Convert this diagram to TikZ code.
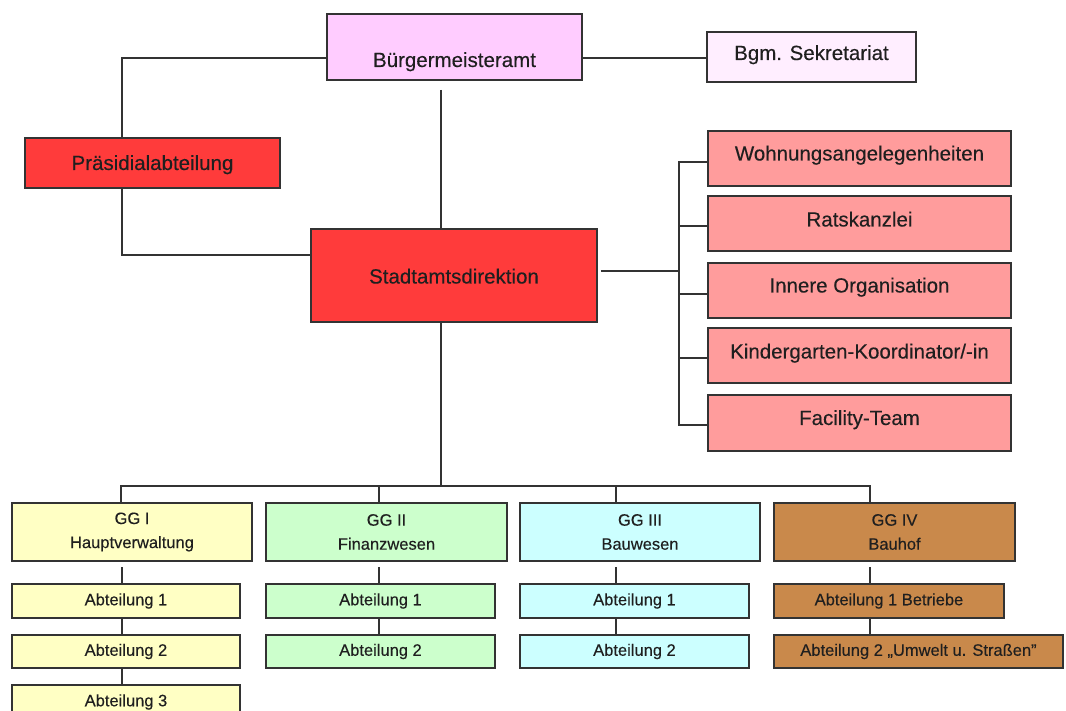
\documentclass[tikz,border=0pt]{standalone}
\usepackage{fontspec}
\setmainfont{Liberation Sans}[FakeBold=0.25]
\definecolor{cBma}{HTML}{FFCCFF}
\definecolor{cSek}{HTML}{FFEEFF}
\definecolor{cRed}{HTML}{FF3B3B}
\definecolor{cRose}{HTML}{FF9C9C}
\definecolor{cYel}{HTML}{FFFFC4}
\definecolor{cGrn}{HTML}{CCFFCC}
\definecolor{cCya}{HTML}{CCFFFF}
\definecolor{cBrn}{HTML}{C9894B}
\definecolor{cLine}{HTML}{333333}
\tikzset{
  box/.style={draw=cLine, line width=1.6pt, inner sep=0pt, align=center, text=black!88},
  bigtxt/.style={font=\fontsize{20.5}{24}\selectfont, text height=14pt, text depth=4pt},
  smalltxt/.style={font=\fontsize{16.5}{24}\selectfont},
  oneline/.style={text height=12pt, text depth=3.5pt},
  conn/.style={draw=cLine, line width=1.6pt}
}
\begin{document}
\begin{tikzpicture}[x=1pt,y=-1pt]
\useasboundingbox[fill=white] (0,0) rectangle (1066,711);
% top level
\node[box,bigtxt,fill=cBma,minimum width=255pt,minimum height=66pt] (bma) at (454.5,47) {\raisebox{-15pt}{Bürgermeisteramt}};
\node[box,bigtxt,fill=cSek,minimum width=209pt,minimum height=50pt] (sek) at (811.5,57) {\raisebox{2pt}{Bgm. Sekretariat}};
\node[box,bigtxt,fill=cRed,minimum width=255pt,minimum height=50pt] (praes) at (152.5,163) {\raisebox{-2pt}{Präsidialabteilung}};
\node[box,bigtxt,fill=cRed,minimum width=286pt,minimum height=93pt] (sad) at (454,275.5) {\raisebox{-3pt}{Stadtamtsdirektion}};
% right staff units
\node[box,bigtxt,fill=cRose,minimum width=303pt,minimum height=55pt] (woh) at (859.5,158.5) {\raisebox{3pt}{Wohnungsangelegenheiten}};
\node[box,bigtxt,fill=cRose,minimum width=303pt,minimum height=55pt] (rat) at (859.5,223.5) {\raisebox{2pt}{Ratskanzlei}};
\node[box,bigtxt,fill=cRose,minimum width=303pt,minimum height=55pt] (inn) at (859.5,290.5) {\raisebox{3pt}{Innere Organisation}};
\node[box,bigtxt,fill=cRose,minimum width=303pt,minimum height=55pt] (kin) at (859.5,355.5) {\raisebox{2pt}{Kindergarten-Koordinator/-in}};
\node[box,bigtxt,fill=cRose,minimum width=303pt,minimum height=56pt] (fac) at (859.5,423) {\raisebox{3pt}{Facility-Team}};
% GG boxes
\node[box,smalltxt,fill=cYel,minimum width=240pt,minimum height=58pt] (gg1) at (132,532) {GG I\\Hauptverwaltung};
\node[box,smalltxt,fill=cGrn,minimum width=241pt,minimum height=58pt] (gg2) at (386.5,532) {GG II\\Finanzwesen};
\node[box,smalltxt,fill=cCya,minimum width=240pt,minimum height=58pt] (gg3) at (640,532) {GG III\\Bauwesen};
\node[box,smalltxt,fill=cBrn,minimum width=241pt,minimum height=58pt] (gg4) at (894.5,532) {GG IV\\Bauhof};
% Abteilungen
\node[box,smalltxt,oneline,fill=cYel,minimum width=228pt,minimum height=34pt] (a11) at (126,601) {Abteilung 1};
\node[box,smalltxt,oneline,fill=cYel,minimum width=228pt,minimum height=33pt] (a12) at (126,651.5) {Abteilung 2};
\node[box,smalltxt,oneline,fill=cYel,minimum width=228pt,minimum height=34pt] (a13) at (126,702) {Abteilung 3};
\node[box,smalltxt,oneline,fill=cGrn,minimum width=229pt,minimum height=34pt] (a21) at (380.5,601) {Abteilung 1};
\node[box,smalltxt,oneline,fill=cGrn,minimum width=229pt,minimum height=33pt] (a22) at (380.5,651.5) {Abteilung 2};
\node[box,smalltxt,oneline,fill=cCya,minimum width=229pt,minimum height=34pt] (a31) at (634.5,601) {Abteilung 1};
\node[box,smalltxt,oneline,fill=cCya,minimum width=229pt,minimum height=33pt] (a32) at (634.5,651.5) {Abteilung 2};
\node[box,smalltxt,oneline,fill=cBrn,minimum width=230pt,minimum height=34pt] (a41) at (889,601) {Abteilung 1 Betriebe};
\node[box,smalltxt,oneline,fill=cBrn,minimum width=289pt,minimum height=33pt] (a42) at (918.5,651.5) {Abteilung 2 „Umwelt u. Straßen"};
% connectors top
\draw[conn] ([yshift=-11pt]bma.west) -| ([xshift=-30.5pt]praes.north);
\draw[conn] ([xshift=-30.5pt]praes.south) |- ([yshift=20.5pt]sad.west);
\draw[conn] ([xshift=-13.5pt,yshift=-9pt]bma.south) -- ([xshift=-13pt]sad.north);
\draw[conn] ([yshift=-11pt]bma.east) -- ([yshift=-11pt]bma.east -| sek.west);
% right bus
\coordinate (rb) at ([xshift=-28pt,yshift=-3.5pt]woh.west);
\coordinate (sadr) at ([xshift=3pt,yshift=4.5pt]sad.east);
\draw[conn] (sadr) -- (sadr -| rb);
\draw[conn] ([yshift=-3.5pt]woh.west) -- (rb) |- ([yshift=-2pt]fac.west);
\draw[conn] ([yshift=-2.5pt]rat.west) -- ++(-28,0);
\draw[conn] ([yshift=-3.5pt]inn.west) -- ++(-28,0);
\draw[conn] ([yshift=-2.5pt]kin.west) -- ++(-28,0);
% bottom bus
\coordinate (bus) at ([xshift=-13pt,yshift=-163pt]sad.south);
\draw[conn] ([xshift=-13pt]sad.south) -- (bus);
\draw[conn] ([xshift=-11pt]gg1.north) |- (bus) -| ([xshift=-24.5pt]gg4.north);
\draw[conn] ([xshift=-7.5pt]gg2.north) -- ([xshift=-7.5pt]gg2.north |- bus);
\draw[conn] ([xshift=-24pt]gg3.north) -- ([xshift=-24pt]gg3.north |- bus);
% drops to Abteilungen
\draw[conn] ([xshift=-4pt]a11.north) -- ++(0,-16);
\draw[conn] ([xshift=-4pt]a11.south) -- ([xshift=-4pt]a12.north);
\draw[conn] ([xshift=-4pt]a12.south) -- ([xshift=-4pt]a13.north);
\draw[conn] ([xshift=-1.5pt]a21.north) -- ++(0,-16);
\draw[conn] ([xshift=-1.5pt]a21.south) -- ([xshift=-1.5pt]a22.north);
\draw[conn] ([xshift=-18.5pt]a31.north) -- ++(0,-16);
\draw[conn] ([xshift=-18.5pt]a31.south) -- ([xshift=-18.5pt]a32.north);
\draw[conn] ([xshift=-19pt]a41.north) -- ++(0,-16);
\draw[conn] ([xshift=-19pt]a41.south) -- ([xshift=-19pt]a41.south |- a42.north);
\end{tikzpicture}
\end{document}
